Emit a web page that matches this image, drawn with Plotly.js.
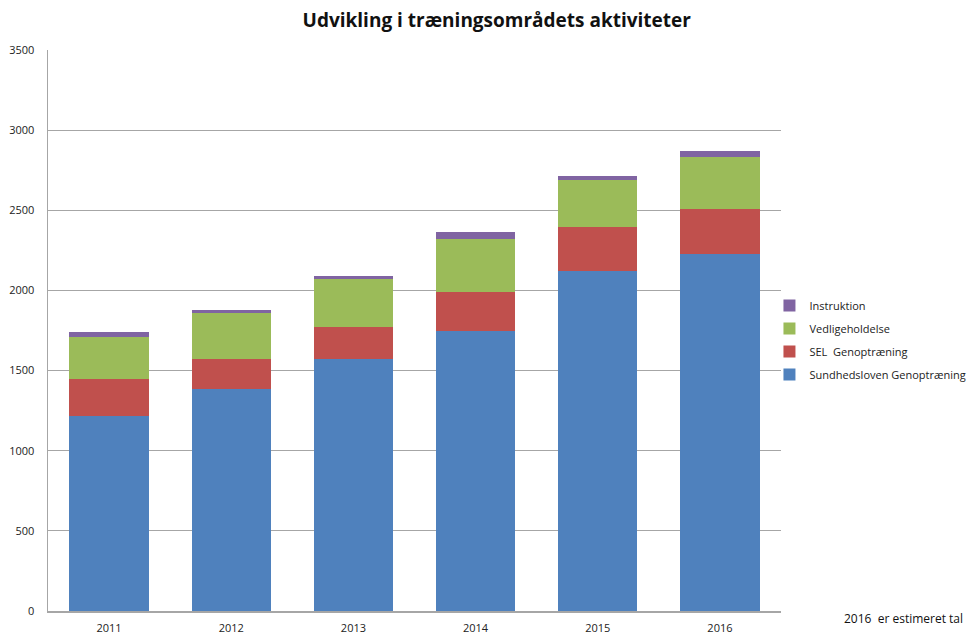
<!DOCTYPE html>
<html>
<head>
<meta charset="utf-8">
<script src="https://cdn.plot.ly/plotly-3.0.1.min.js"></script>
<style>html,body{margin:0;padding:0;background:#fff;}#chart{width:974px;height:635px;}</style>
</head>
<body>
<div id="chart"></div>
<script>
const years = ["2011", "2012", "2013", "2014", "2015", "2016"];
const sundhedsloven = [1218, 1383, 1570, 1745, 2120, 2228];
const selGenoptraening = [231, 187, 200, 243, 276, 280];
const vedligeholdelse = [258, 287, 303, 335, 291, 322];
const instruktion = [32, 21, 15, 41, 29, 42];
const yTicks = [0, 500, 1000, 1500, 2000, 2500, 3000, 3500];

const seriesNames = ["Sundhedsloven Genoptræning", "SEL  Genoptræning", "Vedligeholdelse", "Instruktion"];
const seriesValues = [sundhedsloven, selGenoptraening, vedligeholdelse, instruktion];
const seriesColors = ["#4F81BD", "#C0504D", "#9BBB59", "#8064A2"];

const traces = seriesNames.map((n, i) => ({
  type: "bar",
  name: n,
  x: years,
  y: seriesValues[i],
  marker: {color: seriesColors[i], line: {width: 0}},
  legendgroup: "g" + i,
  legendrank: 1000 - i,
  hoverinfo: "x+y+name"
}));

const font = "Open Sans, Liberation Sans, sans-serif";
const layout = {
  width: 974, height: 635,
  margin: {l: 48, r: 193, t: 50, b: 24, pad: 0, autoexpand: false},
  paper_bgcolor: "#fff", plot_bgcolor: "#fff",
  barmode: "stack",
  bargap: 0.35,
  font: {family: font, size: 11, color: "#222"},
  title: {
    text: "<b>Udvikling i træningsområdets aktiviteter</b>",
    font: {family: font, size: 19, color: "#111"},
    x: 0.51, xanchor: "center", y: 0.968, yanchor: "middle"
  },
  xaxis: {
    type: "category",
    showgrid: false,
    showline: true, linecolor: "#a6a6a6", linewidth: 1.5,
    ticks: "", tickfont: {size: 11, color: "#222"},
    ticklabelstandoff: 6
  },
  yaxis: {
    range: [0, 3500],
    tickvals: yTicks,
    ticktext: yTicks.map(String),
    showgrid: true, gridcolor: "#a6a6a6", gridwidth: 1.2,
    showline: true, linecolor: "#a6a6a6", linewidth: 1.5,
    zeroline: false,
    ticks: "", tickfont: {size: 11, color: "#222"},
    ticklabelstandoff: 10
  },
  legend: {
    xref: "container", x: 0.79, xanchor: "left",
    y: 0.483, yanchor: "middle",
    traceorder: "grouped",
    tracegroupgap: 4,
    font: {size: 11, color: "#222"},
    itemwidth: 30,
    bgcolor: "rgba(0,0,0,0)"
  },
  annotations: [{
    text: "2016  er estimeret tal",
    xref: "paper", yref: "paper",
    x: 1.251, xanchor: "right", y: -0.0125, yanchor: "middle",
    showarrow: false,
    font: {size: 12, color: "#111"}
  }]
};

Plotly.newPlot("chart", traces, layout, {displayModeBar: false, staticPlot: true});
</script>
</body>
</html>
